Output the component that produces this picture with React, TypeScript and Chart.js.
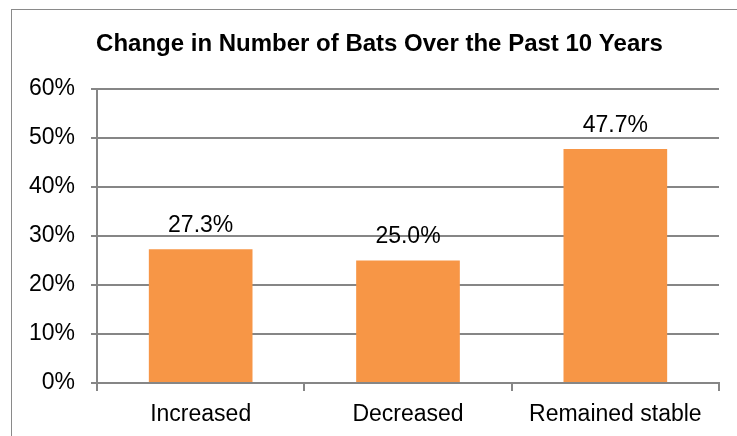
import React, { useEffect, useRef } from "react";
import { Chart, registerables } from "chart.js";

Chart.register(...registerables);

const TITLE = "Change in Number of Bats Over the Past 10 Years";
const CATEGORIES = ["Increased", "Decreased", "Remained stable"];
const VALUES = [27.3, 25.0, 47.7];
const Y_MAX = 60;
const Y_STEP = 10;

const BAR_COLOR = "#F79646";
const GRID_COLOR = "#868686";
const FONT = "'Liberation Sans', Arial, sans-serif";

const frameBorder = {
  id: "frameBorder",
  afterLayout(chart: any) {
    // the original chart frame is wider than the visible crop; centre the title on it
    if (chart.titleBlock) chart.titleBlock.right = chart.width + 22;
  },
  beforeDraw(chart: any) {
    const ctx = chart.ctx;
    ctx.save();
    ctx.strokeStyle = "#8a8a8a";
    ctx.lineWidth = 1;
    ctx.strokeRect(11.5, 9.5, 2000, 2000);
    ctx.restore();
  },
};

const dataLabels = {
  id: "dataLabels",
  afterDatasetsDraw(chart: any) {
    const ctx = chart.ctx;
    const meta = chart.getDatasetMeta(0);
    ctx.save();
    ctx.fillStyle = "#000";
    ctx.font = `23px ${FONT}`;
    ctx.textAlign = "center";
    ctx.textBaseline = "alphabetic";
    meta.data.forEach((bar: any, i: number) => {
      ctx.fillText(VALUES[i].toFixed(1) + "%", bar.x, bar.y - 17);
    });
    ctx.restore();
  },
};

export default function App() {
  const ref = useRef<HTMLCanvasElement>(null);
  useEffect(() => {
    if (!ref.current) return;
    const chart = new Chart(ref.current, {
      type: "bar",
      data: {
        labels: CATEGORIES,
        datasets: [
          {
            data: VALUES,
            backgroundColor: BAR_COLOR,
            borderWidth: 0,
            categoryPercentage: 1,
            barPercentage: 0.5,
          },
        ],
      },
      options: {
        animation: false,
        responsive: false,
        devicePixelRatio: 1,
        layout: { padding: { left: 0, right: 18, top: 0, bottom: 0 } },
        plugins: {
          legend: { display: false },
          tooltip: { enabled: false },
          title: {
            display: true,
            text: TITLE,
            color: "#000",
            font: { family: FONT, size: 24, weight: "bold", lineHeight: 1.2 },
            padding: { top: 30, bottom: 30 },
          },
        },
        scales: {
          x: {
            border: { display: true, color: GRID_COLOR, width: 2 },
            grid: {
              display: true,
              drawOnChartArea: false,
              drawTicks: true,
              tickLength: 8,
              color: GRID_COLOR,
              lineWidth: 2,
              offset: true,
            },
            ticks: {
              color: "#000",
              font: { family: FONT, size: 23 },
              padding: 10,
              maxRotation: 0,
            },
            afterFit(scale: any) {
              scale.height = 53;
            },
          },
          y: {
            min: 0,
            max: Y_MAX,
            border: { display: true, color: GRID_COLOR, width: 2 },
            grid: {
              color: GRID_COLOR,
              lineWidth: 2,
              drawTicks: true,
              tickLength: 6,
            },
            ticks: {
              stepSize: Y_STEP,
              color: "#000",
              font: { family: FONT, size: 23 },
              padding: 16,
              callback: (v: any) => v + "%",
            },
            afterFit(scale: any) {
              scale.width = 97;
            },
          },
        },
      },
      plugins: [frameBorder, dataLabels],
    });
    return () => chart.destroy();
  }, []);
  return (
    <div style={{ position: "fixed", left: 0, top: 0, width: 737, height: 436, overflow: "hidden", background: "#fff" }}>
      <canvas ref={ref} width={737} height={436} style={{ width: 737, height: 436, display: "block" }} />
    </div>
  );
}
